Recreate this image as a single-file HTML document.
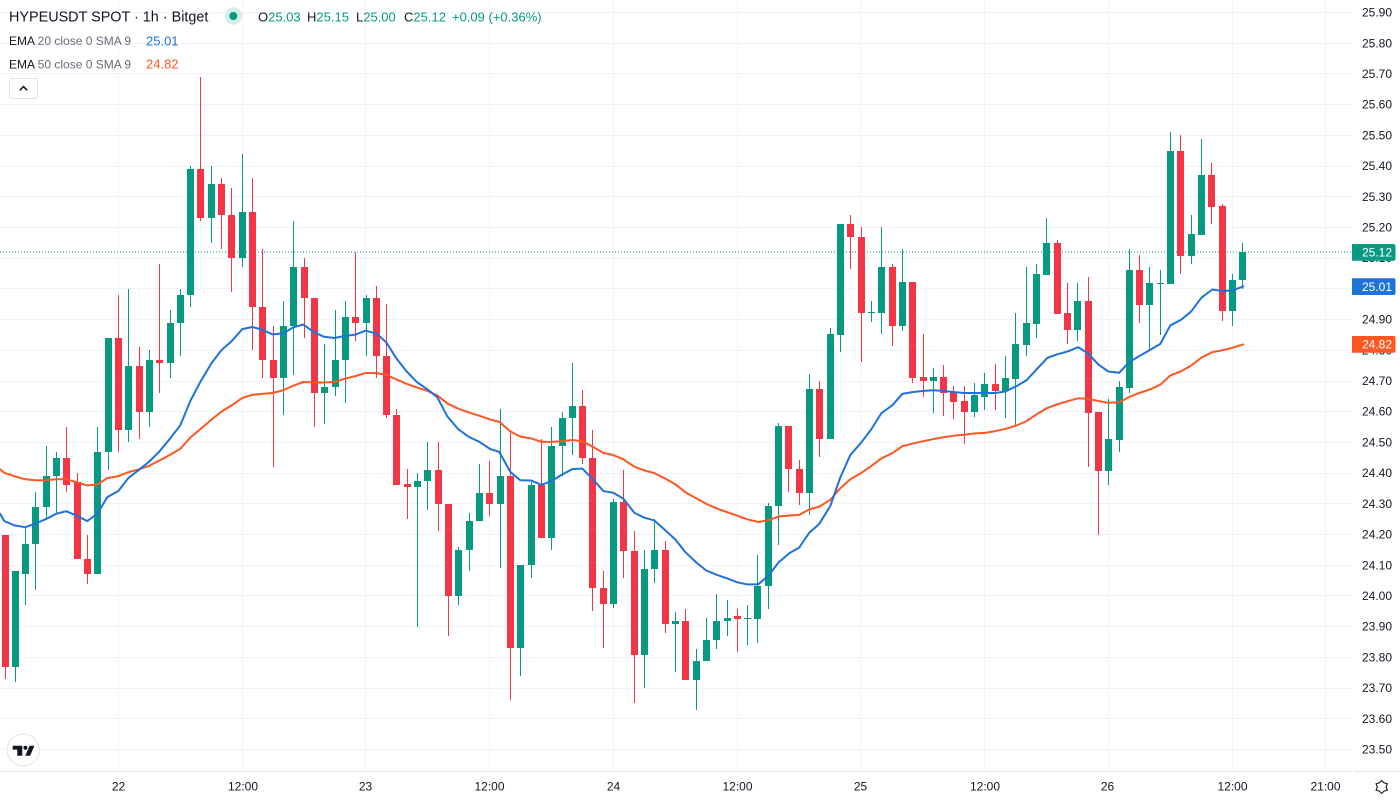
<!DOCTYPE html>
<html><head><meta charset="utf-8">
<style>
html,body{margin:0;padding:0;background:#fff;width:1400px;height:800px;overflow:hidden;}
svg{display:block;font-family:"Liberation Sans",Arial,sans-serif;}
</style></head>
<body>
<svg id="chart" width="1400" height="800" viewBox="0 0 1400 800" xmlns="http://www.w3.org/2000/svg">
<rect width="1400" height="800" fill="#ffffff"/>
<g id="grid"></g>
<line x1="0" y1="252" x2="1352" y2="252" stroke="#089981" stroke-width="1" stroke-dasharray="1 2"/>
<g id="candles"></g>
<g id="emas"></g>

<!-- Header -->
<text x="9" y="21.7" font-size="14.4" fill="#131722">HYPEUSDT SPOT · 1h · Bitget</text>
<circle cx="233.3" cy="16" r="8.7" fill="#d3efe7"/>
<circle cx="233.3" cy="16" r="4" fill="#089981"/>
<g font-size="13" fill="#089981">
<text x="258" y="21.5"><tspan fill="#131722">O</tspan>25.03</text>
<text x="307" y="21.5"><tspan fill="#131722">H</tspan>25.15</text>
<text x="356" y="21.5"><tspan fill="#131722">L</tspan>25.00</text>
<text x="404" y="21.5"><tspan fill="#131722">C</tspan>25.12</text>
<text x="452" y="21.5">+0.09 (+0.36%)</text>
</g>
<text x="9" y="45" font-size="12" fill="#6a6d78"><tspan fill="#131722">EMA</tspan> 20 close 0 SMA 9</text>
<text x="146" y="45.3" font-size="13" fill="#1f72d8">25.01</text>
<text x="9" y="68.4" font-size="12" fill="#6a6d78"><tspan fill="#131722">EMA</tspan> 50 close 0 SMA 9</text>
<text x="146" y="68.7" font-size="13" fill="#ff5722">24.82</text>
<rect x="9.5" y="78.5" width="28" height="20" rx="3" fill="#fff" stroke="#dfe2ea"/>
<polyline points="19.8,90.3 23.5,86.6 27.2,90.3" fill="none" stroke="#131722" stroke-width="1.6"/>

<!-- Price axis labels -->
<g font-size="12" fill="#131722">
<text x="1362" y="16.6">25.90</text>
<text x="1362" y="47.3">25.80</text>
<text x="1362" y="78">25.70</text>
<text x="1362" y="108.7">25.60</text>
<text x="1362" y="139.4">25.50</text>
<text x="1362" y="170.1">25.40</text>
<text x="1362" y="200.8">25.30</text>
<text x="1362" y="231.5">25.20</text>
<text x="1362" y="262.2">25.10</text>
<text x="1362" y="292.9">25.00</text>
<text x="1362" y="323.6">24.90</text>
<text x="1362" y="354.3">24.80</text>
<text x="1362" y="385">24.70</text>
<text x="1362" y="415.7">24.60</text>
<text x="1362" y="446.4">24.50</text>
<text x="1362" y="477.2">24.40</text>
<text x="1362" y="507.9">24.30</text>
<text x="1362" y="538.6">24.20</text>
<text x="1362" y="569.3">24.10</text>
<text x="1362" y="600">24.00</text>
<text x="1362" y="630.7">23.90</text>
<text x="1362" y="661.4">23.80</text>
<text x="1362" y="692.1">23.70</text>
<text x="1362" y="722.8">23.60</text>
<text x="1362" y="753.5">23.50</text>
</g>
<!-- Price label boxes -->
<path d="M1352,244 H1393.5 Q1395.5,244 1395.5,246 V258.7 Q1395.5,260.7 1393.5,260.7 H1352 Z" fill="#089981"/>
<text x="1362" y="256.5" font-size="12" fill="#ffffff">25.12</text>
<path d="M1352,278.3 H1393.5 Q1395.5,278.3 1395.5,280.3 V293 Q1395.5,295 1393.5,295 H1352 Z" fill="#1f72d8"/>
<text x="1362" y="290.8" font-size="12" fill="#ffffff">25.01</text>
<path d="M1352,336 H1393.5 Q1395.5,336 1395.5,338 V350.7 Q1395.5,352.7 1393.5,352.7 H1352 Z" fill="#ff5722"/>
<text x="1362" y="348.5" font-size="12" fill="#ffffff">24.82</text>

<!-- Time axis -->
<line x1="0" y1="771.5" x2="1352" y2="771.5" stroke="#e0e3eb" stroke-width="1"/>
<line x1="1354" y1="771.5" x2="1400" y2="771.5" stroke="#e0e3eb" stroke-width="1"/>
<g font-size="12" fill="#131722" text-anchor="middle">
<text x="118.5" y="790.3">22</text>
<text x="243" y="790.3">12:00</text>
<text x="365.5" y="790.3">23</text>
<text x="489.5" y="790.3">12:00</text>
<text x="613.5" y="790.3">24</text>
<text x="737.5" y="790.3">12:00</text>
<text x="860.5" y="790.3">25</text>
<text x="985" y="790.3">12:00</text>
<text x="1107.5" y="790.3">26</text>
<text x="1232.5" y="790.3">12:00</text>
<text x="1325.5" y="790.3">21:00</text>
</g>
<!-- gear -->
<g transform="translate(1381.7,787)" stroke="#131722" stroke-width="1.1" fill="none">
<polygon points="0,-6.5 2.2,-4.2 5.6,-3.2 4.4,0 5.6,3.2 2.2,4.2 0,6.5 -2.2,4.2 -5.6,3.2 -4.4,0 -5.6,-3.2 -2.2,-4.2"/>
</g>

<!-- TV logo -->
<circle cx="23.3" cy="750" r="16" fill="#ffffff" stroke="#e0e3eb" stroke-width="1"/>
<path d="M12.7,745.7 H22.3 V755.7 H17.3 V749.6 H12.7 Z" fill="#131722"/>
<circle cx="25.4" cy="747.7" r="2" fill="#131722"/>
<path d="M29.6,745.7 H34.4 L30.1,755.7 H25.3 Z" fill="#131722"/>
</svg>

<script>
(function(){
var NS="http://www.w3.org/2000/svg";
function Y(p){return 12.5+(25.90-p)*307.1;}
var D=[
[24.20,24.20,23.73,23.77],[23.77,24.08,23.72,24.08],[24.07,24.22,23.97,24.17],[24.17,24.34,24.02,24.29],
[24.29,24.49,24.25,24.39],[24.39,24.47,24.27,24.45],[24.45,24.55,24.34,24.36],[24.37,24.40,24.12,24.12],
[24.12,24.20,24.04,24.07],[24.07,24.55,24.07,24.47],[24.47,24.84,24.41,24.84],[24.84,24.98,24.47,24.54],
[24.54,25.00,24.50,24.75],[24.75,24.81,24.51,24.60],[24.60,24.80,24.55,24.77],[24.77,25.08,24.66,24.76],
[24.76,24.93,24.71,24.89],[24.89,25.00,24.78,24.98],[24.98,25.40,24.94,25.39],[25.39,25.69,25.22,25.23],
[25.23,25.40,25.15,25.34],[25.34,25.36,25.13,25.24],[25.24,25.33,24.99,25.10],[25.10,25.44,25.07,25.25],
[25.25,25.36,24.80,24.94],[24.94,25.13,24.71,24.77],[24.77,24.88,24.42,24.71],[24.71,24.96,24.59,24.88],
[24.88,25.22,24.72,25.07],[25.07,25.10,24.84,24.97],[24.97,24.97,24.55,24.66],[24.66,24.82,24.56,24.68],
[24.68,24.93,24.65,24.77],[24.77,24.96,24.63,24.91],[24.91,25.12,24.83,24.89],[24.89,24.98,24.78,24.97],
[24.97,25.01,24.71,24.78],[24.78,24.95,24.58,24.59],[24.59,24.61,24.36,24.36],[24.365,24.415,24.25,24.355],
[24.355,24.40,23.90,24.375],[24.375,24.50,24.28,24.41],[24.41,24.50,24.21,24.30],[24.30,24.30,23.87,24.00],
[24.00,24.16,23.97,24.15],[24.15,24.27,24.08,24.245],[24.245,24.43,24.245,24.335],[24.335,24.44,24.26,24.30],
[24.30,24.61,24.09,24.39],[24.39,24.53,23.66,23.83],[23.83,24.10,23.74,24.10],[24.10,24.37,24.06,24.36],
[24.36,24.51,24.19,24.19],[24.19,24.55,24.15,24.49],[24.49,24.60,24.39,24.58],[24.58,24.76,24.46,24.62],
[24.62,24.67,24.43,24.45],[24.45,24.54,23.95,24.025],[24.025,24.08,23.83,23.975],[23.975,24.317,23.96,24.307],
[24.307,24.41,24.06,24.147],[24.147,24.21,23.65,23.807],[23.807,24.149,23.70,24.089],[24.089,24.25,24.042,24.149],
[24.149,24.18,23.878,23.908],[23.908,23.949,23.751,23.92],[23.92,23.959,23.725,23.725],[23.725,23.828,23.63,23.789],
[23.789,23.929,23.789,23.858],[23.858,24.006,23.828,23.92],[23.917,23.988,23.87,23.929],[23.936,23.957,23.818,23.925],
[23.926,23.97,23.839,23.928],[23.925,24.135,23.847,24.033],[24.033,24.303,23.957,24.293],[24.293,24.562,24.166,24.552],
[24.552,24.552,24.337,24.412],[24.413,24.444,24.296,24.334],[24.334,24.722,24.264,24.673],[24.673,24.701,24.453,24.511],
[24.511,24.873,24.511,24.852],[24.85,25.212,24.795,25.212],[25.212,25.241,25.064,25.168],[25.17,25.20,24.763,24.921],
[24.92,24.962,24.892,24.924],[24.921,25.20,24.853,25.072],[25.072,25.081,24.815,24.879],[24.879,25.131,24.864,25.021],
[25.021,25.021,24.693,24.71],[24.713,24.852,24.647,24.70],[24.70,24.742,24.595,24.713],[24.713,24.751,24.585,24.661],
[24.664,24.684,24.575,24.633],[24.634,24.684,24.496,24.60],[24.60,24.693,24.583,24.653],[24.648,24.727,24.607,24.689],
[24.689,24.756,24.607,24.667],[24.667,24.78,24.58,24.71],[24.706,24.921,24.552,24.819],[24.816,25.071,24.78,24.889],
[24.885,25.08,24.84,25.047],[25.045,25.231,25.045,25.148],[25.148,25.158,24.918,24.918],[24.921,25.019,24.819,24.865],
[24.865,25.019,24.83,24.959],[24.959,25.039,24.42,24.596],[24.598,24.598,24.20,24.407],[24.407,24.64,24.36,24.51],
[24.507,24.699,24.468,24.68],[24.677,25.129,24.66,25.06],[25.06,25.109,24.889,24.946],[24.946,25.071,24.80,25.018],
[25.016,25.06,24.85,25.018],[25.016,25.51,25.016,25.448],[25.448,25.50,25.047,25.106],[25.106,25.239,25.08,25.178],
[25.174,25.487,25.174,25.37],[25.37,25.41,25.21,25.267],[25.269,25.277,24.897,24.928],[24.928,25.047,24.878,25.028],
[25.03,25.15,25.00,25.12]
];
var blue=[[0,24.268],[4.3,24.244],[14.3,24.23],[25.3,24.224],[35.3,24.236],[45.7,24.25],[56.3,24.268],[66.3,24.276],[76.3,24.262],[87.3,24.244],[97.3,24.268],[107.3,24.322],[118.3,24.342],[128.3,24.384],[138.3,24.409],[149.3,24.438],[159.3,24.47],[169.7,24.511],[180.3,24.556],[190.3,24.635],[200.3,24.697],[211.3,24.757],[221.3,24.80],[231.7,24.83],[242.3,24.869],
[252.3,24.876],[262.3,24.867],[272.3,24.852],[283.3,24.855],[293.3,24.875],[303.3,24.884],[314,24.859],[324,24.844],[334.3,24.84],[345.3,24.847],[355.3,24.851],[365.3,24.864],[376.3,24.855],[386.3,24.826],[396.3,24.774],[406.7,24.731],[416.7,24.697],[427.3,24.673],[437.3,24.647],[447.3,24.585],[458.3,24.543],[468.3,24.519],[479.3,24.502],[490,24.479],
[499.3,24.469],[510.3,24.404],[520.3,24.377],[531.3,24.376],[541.3,24.362],[551.3,24.374],[561.3,24.394],[572.3,24.413],[582.3,24.415],[592.3,24.382],[603.3,24.342],[613.3,24.336],[623.3,24.317],[634.3,24.271],[644.3,24.255],[654.3,24.246],[665.3,24.214],[675.3,24.184],[685.3,24.143],[696.3,24.109],[706.3,24.083],[716.7,24.069],[727.3,24.057],[737,24.045],
[746.7,24.038],[758.3,24.038],[768.7,24.067],[778.7,24.11],[789.3,24.139],[799.3,24.158],[809.3,24.206],[819.3,24.235],[830.3,24.293],[840.3,24.386],[850.3,24.459],[861.3,24.50],[871.3,24.543],[881.3,24.595],[892.3,24.621],[902.3,24.658],[912.3,24.664],[923.3,24.668],[933.3,24.67],[943.3,24.668],[954.3,24.664],[964.3,24.661],[974.3,24.661],
[985,24.661],[995.3,24.661],[1005.3,24.666],[1016.3,24.683],[1026.3,24.702],[1036.3,24.737],[1047.3,24.775],[1057.3,24.787],[1067.3,24.796],[1078.3,24.81],[1088.3,24.789],[1098.3,24.754],[1108.3,24.731],[1119.3,24.727],[1129.3,24.762],[1139.3,24.781],[1150.3,24.802],[1160.3,24.821],[1170.3,24.881],[1181.3,24.90],[1191.3,24.927],[1201.3,24.971],[1212.3,24.998],[1222.3,24.993],[1232.3,24.995],[1243.3,25.008]];
var orange=[[0,24.413],[4.3,24.401],[14.3,24.39],[25.3,24.38],[35.3,24.377],[45.7,24.377],[56.3,24.38],[66.3,24.38],[76.3,24.371],[87.3,24.36],[97.3,24.363],[107.3,24.384],[118.3,24.39],[128.3,24.403],[138.3,24.412],[149.3,24.424],[159.3,24.441],[169.7,24.459],[180.3,24.479],[190.3,24.516],[200.3,24.543],[211.3,24.574],[221.3,24.60],[231.7,24.621],[242.3,24.645],
[252.3,24.655],[262.3,24.658],[272.3,24.661],[283.3,24.67],[293.3,24.685],[303.3,24.697],[314,24.695],[324,24.695],[334.3,24.697],[345.3,24.708],[355.3,24.716],[365.3,24.726],[376.3,24.726],[386.3,24.72],[396.3,24.705],[406.7,24.691],[416.7,24.679],[427.3,24.668],[437.3,24.653],[447.3,24.627],[458.3,24.61],[468.3,24.598],[479.3,24.587],[490,24.575],
[499.3,24.567],[510.3,24.536],[520.3,24.519],[531.3,24.513],[541.3,24.502],[551.3,24.502],[561.3,24.504],[572.3,24.508],[582.3,24.504],[592.3,24.487],[603.3,24.466],[613.3,24.459],[623.3,24.445],[634.3,24.421],[644.3,24.409],[654.3,24.40],[665.3,24.382],[675.3,24.364],[685.3,24.338],[696.3,24.318],[706.3,24.30],[716.7,24.285],[727.3,24.273],[737,24.262],
[746.7,24.25],[758.3,24.241],[768.7,24.247],[778.7,24.259],[789.3,24.262],[799.3,24.264],[809.3,24.282],[819.3,24.291],[830.3,24.313],[840.3,24.351],[850.3,24.38],[861.3,24.401],[871.3,24.423],[881.3,24.448],[892.3,24.465],[902.3,24.488],[912.3,24.496],[923.3,24.504],[933.3,24.511],[943.3,24.517],[954.3,24.522],[964.3,24.525],[974.3,24.529],
[985,24.531],[995.3,24.537],[1005.3,24.544],[1016.3,24.555],[1026.3,24.569],[1036.3,24.591],[1047.3,24.612],[1057.3,24.624],[1067.3,24.634],[1078.3,24.644],[1088.3,24.642],[1098.3,24.635],[1108.3,24.629],[1119.3,24.631],[1129.3,24.648],[1139.3,24.661],[1150.3,24.673],[1160.3,24.688],[1170.3,24.718],[1181.3,24.732],[1191.3,24.751],[1201.3,24.776],[1212.3,24.794],[1222.3,24.80],[1232.3,24.808],[1243.3,24.819]];

function el(tag,attrs,parent){var e=document.createElementNS(NS,tag);for(var k in attrs)e.setAttribute(k,attrs[k]);parent.appendChild(e);return e;}

var grid=document.getElementById('grid');
var gp='';
for(var k=0;k<=24;k++){var y=Math.floor(12.5+k*30.71)+0.5;gp+='M0,'+y+'H1352';}
var vx=[118,242,365,489,613,737,860,984,1108,1232,1325];
for(var j=0;j<vx.length;j++){gp+='M'+(vx[j]+0.5)+',0V771';}
el('path',{d:gp,stroke:'#f0f3fa','stroke-width':1,fill:'none'},grid);

var cg=document.getElementById('candles');
var gw='',rw='',gb='',rb='';
for(var i=0;i<D.length;i++){
  var o=D[i][0],h=D[i][1],l=D[i][2],c=D[i][3];
  var cx=Math.round(4.5+i*10.315);
  var up=c>=o;
  var yh=Math.round(Y(h)),yl=Math.round(Y(l));
  var yt=Math.round(Y(Math.max(o,c))),yb=Math.round(Y(Math.min(o,c)));
  var bh=Math.max(1,yb-yt);
  var w='M'+cx+','+yh+'h1V'+yl+'h-1Z';
  var b='M'+(cx-3)+','+yt+'h7v'+bh+'h-7Z';
  if(up){gw+=w;gb+=b;}else{rw+=w;rb+=b;}
}
el('path',{d:gw,fill:'#089981'},cg);
el('path',{d:rw,fill:'#f23645'},cg);
el('path',{d:gb,fill:'#089981'},cg);
el('path',{d:rb,fill:'#f23645'},cg);

var eg=document.getElementById('emas');
function line(pts,col){
  var d='';
  for(var i=0;i<pts.length;i++){d+=(i?'L':'M')+pts[i][0]+','+Y(pts[i][1]).toFixed(2);}
  el('path',{d:d,stroke:col,'stroke-width':2,fill:'none','stroke-linejoin':'round','stroke-linecap':'round'},eg);
}
line(orange,'#ff5722');
line(blue,'#1f72d8');
})();
</script>
</body></html>
